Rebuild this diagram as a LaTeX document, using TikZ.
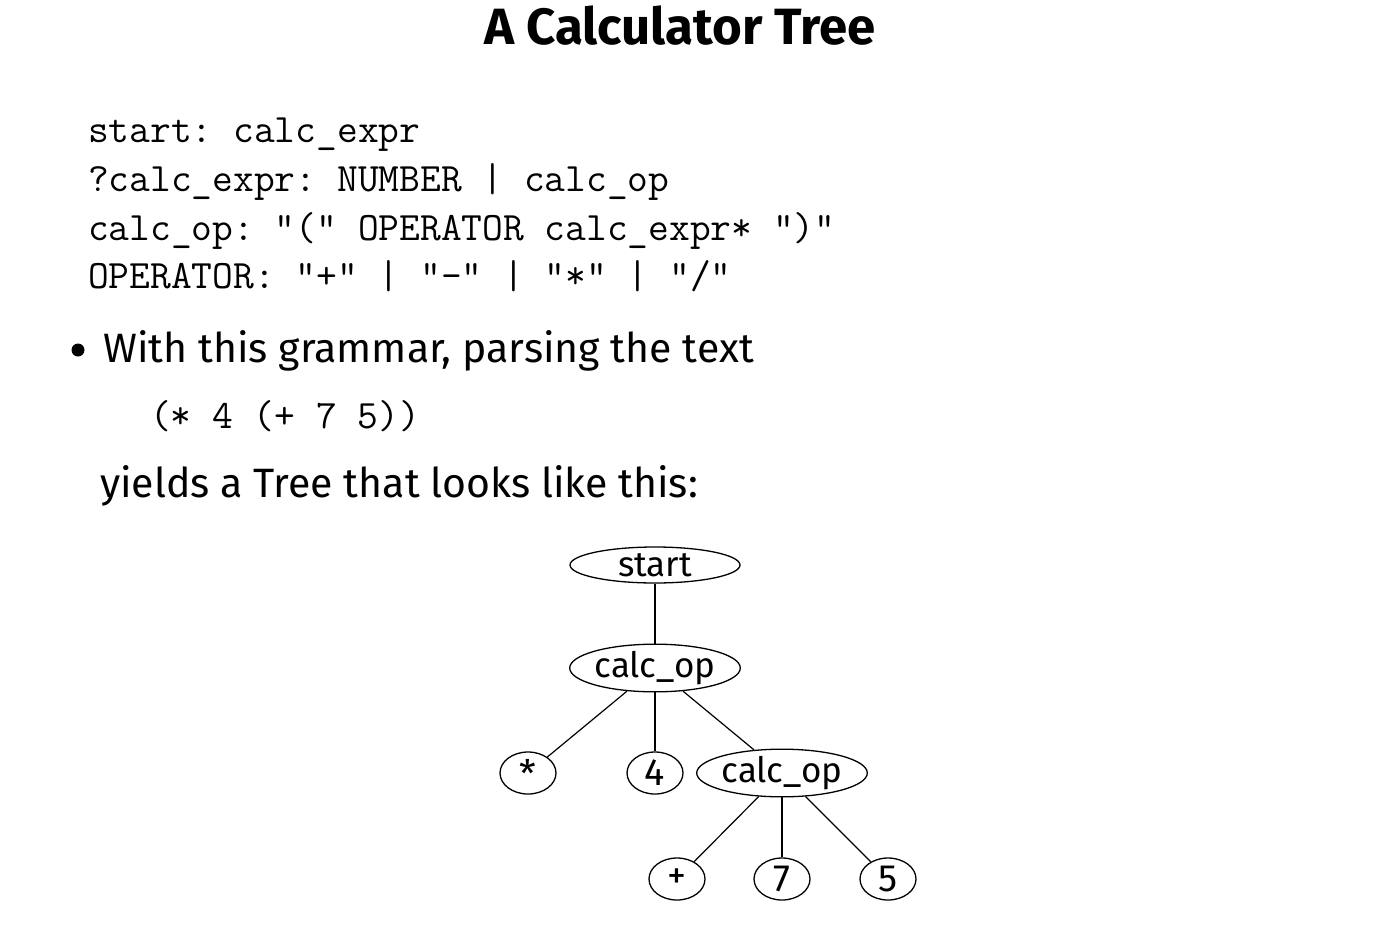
\documentclass[tikz,border=0pt]{standalone}
\usepackage{fontspec}
\setmainfont{Fira Sans}
\usetikzlibrary{shapes.geometric}
\begin{document}
\frenchspacing
\begin{tikzpicture}[x=1pt,y=-1pt,
  codetext/.style={anchor=base west,inner sep=0pt,font=\ttfamily\fontsize{40.3}{48}\selectfont},
  bodytext/.style={anchor=base west,inner sep=0pt,font=\fontsize{41}{48}\selectfont},
  bignode/.style={draw,ellipse,line width=1.3pt,inner sep=0pt,minimum width=170pt,minimum height=36pt,font=\fontsize{35}{40}\selectfont},
  smallnode/.style={draw,ellipse,line width=1.3pt,inner sep=0pt,minimum width=56pt,minimum height=42pt,font=\fontsize{38}{40}\selectfont},
  edge/.style={line width=1.2pt}]
\useasboundingbox[fill=white] (0,0) rectangle (1378,950);
\node[anchor=base,inner sep=0pt,font=\bfseries\fontsize{51}{56}\selectfont] (title) at (680,45) {A Calculator Tree};
\node[codetext] (g1) at (88,142) {start: calc\_expr};
\node[codetext] (g2) at (88,191) {?calc\_expr: NUMBER | calc\_op};
\node[codetext] (g3) at (88,240) {calc\_op: "(" OPERATOR calc\_expr* ")"};
\node[codetext] (g4) at (88,288) {OPERATOR: "+" | "-" | "*" | "/"};
\node[inner sep=0pt,circle,fill=black,minimum size=13pt] (bullet) at (78,350) {};
\node[bodytext] (b1) at (103,362) {With this grammar, parsing the text};
\node[codetext] (ex) at (150,428) {(* 4 (+ 7 5))};
\node[bodytext] (b2) at (100,497) {yields a Tree that looks like this:};
\node[bignode] (start) at (655,565) {start};
\node[bignode] (op1) at (655,668) {calc\_op};
\node[smallnode] (star) at (528,773) {*};
\node[smallnode] (four) at (655,773) {4};
\node[bignode] (op2) at (782,773) {calc\_op};
\node[smallnode] (plus) at (677,879) {+};
\node[smallnode] (seven) at (782,879) {7};
\node[smallnode] (five) at (888,879) {5};
\draw[edge] (start) -- (op1);
\draw[edge] (op1) -- (star);
\draw[edge] (op1) -- (four);
\draw[edge] (op1) -- (op2);
\draw[edge] (op2) -- (plus);
\draw[edge] (op2) -- (seven);
\draw[edge] (op2) -- (five);
\end{tikzpicture}
\end{document}
